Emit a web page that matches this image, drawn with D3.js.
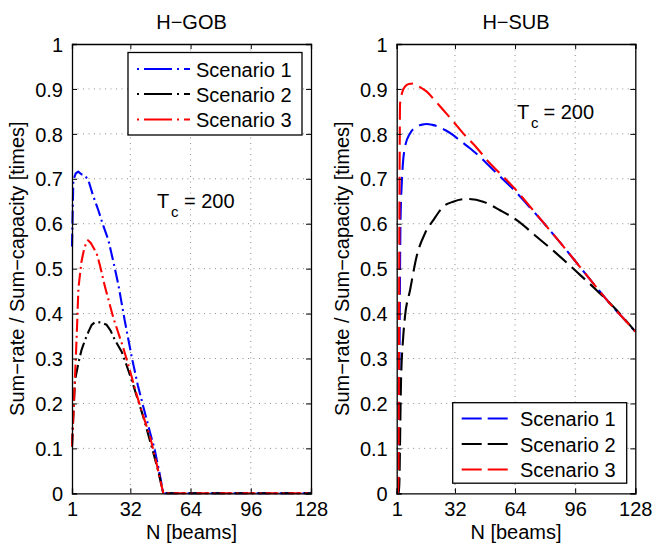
<!DOCTYPE html>
<html>
<head>
<meta charset="utf-8">
<script src="https://cdn.jsdelivr.net/npm/d3@7/dist/d3.min.js"></script>
<style>
  html, body { margin: 0; padding: 0; background: #fff; }
  svg { display: block; font-family: "Liberation Sans", Arial, Helvetica, sans-serif; }
</style>
</head>
<body>
<svg id="chart" width="654" height="544"></svg>
<script>
// ---------- data ----------
const xTicks = [1, 32, 64, 96, 128];
const yTicks = [0, 0.1, 0.2, 0.3, 0.4, 0.5, 0.6, 0.7, 0.8, 0.9, 1];
const seriesNames = ["Scenario 1", "Scenario 2", "Scenario 3"];
const seriesColors = ["#0000ff", "#000000", "#ff0000"];
const panelTitles = ["H\u2212GOB", "H\u2212SUB"];

// H-GOB panel
const gobN1 = [1, 1.7, 3, 4.3, 6, 7.9, 9.7, 12, 15, 17.5, 20.3, 23, 25.6, 29, 32.7, 36, 39.8, 42.5, 45, 47.5, 49.5, 128];
const gobV1 = [0.549, 0.697, 0.712, 0.716, 0.71, 0.707, 0.697, 0.665, 0.63, 0.597, 0.564, 0.515, 0.465, 0.385, 0.304, 0.24, 0.178, 0.135, 0.096, 0.045, 0, 0];
const gobN2 = [1, 2, 2.6, 4.4, 6, 7.9, 10, 11.5, 13, 15, 17, 19.4, 21.5, 23.8, 27.4, 30, 32.7, 35.5, 38.9, 43.3, 46.5, 49.5, 128];
const gobV2 = [0.104, 0.2, 0.252, 0.29, 0.318, 0.341, 0.362, 0.375, 0.38, 0.381, 0.379, 0.375, 0.362, 0.341, 0.315, 0.285, 0.252, 0.215, 0.17, 0.104, 0.055, 0, 0];
const gobN3 = [1, 2, 3, 3.5, 4.4, 6, 7.5, 8.8, 9.5, 11, 14.1, 16, 18.5, 23, 28.3, 32, 35.4, 39, 42.5, 46, 49.5, 128];
const gobV3 = [0.104, 0.2, 0.3, 0.35, 0.456, 0.515, 0.545, 0.56, 0.563, 0.557, 0.534, 0.505, 0.46, 0.39, 0.323, 0.27, 0.219, 0.17, 0.126, 0.065, 0, 0];

// H-SUB panel
const subN1 = [1, 1.9, 3, 3.7, 5.4, 8.1, 11.6, 14, 17, 20, 23.2, 27, 31.1, 35, 40, 45, 50.7, 56, 63, 72, 81, 90, 98.5, 107, 116, 122, 128];
const subV1 = [0, 0, 0.6, 0.69, 0.771, 0.801, 0.816, 0.82, 0.822, 0.82, 0.816, 0.808, 0.797, 0.784, 0.768, 0.75, 0.727, 0.705, 0.677, 0.636, 0.593, 0.548, 0.504, 0.46, 0.415, 0.388, 0.36];
const subN2 = [1, 2.2, 3.3, 4.5, 5.4, 8.1, 11.6, 16.1, 20.5, 25.8, 31.1, 38.3, 47, 56, 64.9, 75.5, 86, 96.8, 107.4, 118, 128];
const subV2 = [0, 0, 0.25, 0.35, 0.393, 0.452, 0.527, 0.579, 0.608, 0.638, 0.649, 0.655, 0.649, 0.63, 0.608, 0.571, 0.534, 0.493, 0.452, 0.408, 0.36];
const subN3 = [1, 1.8, 2.8, 4, 5.4, 7.5, 9.8, 13, 17, 21, 25.8, 31, 36.4, 43, 50.7, 56, 63, 72, 81, 90, 98.5, 107, 116, 122, 128];
const subV3 = [0, 0, 0.868, 0.893, 0.905, 0.911, 0.912, 0.905, 0.894, 0.876, 0.853, 0.828, 0.801, 0.772, 0.734, 0.712, 0.682, 0.638, 0.593, 0.548, 0.504, 0.46, 0.415, 0.388, 0.36];

// ---------- drawing ----------
const svg = d3.select("#chart");
const FONT = 20;
const yTop = 44, yBottom = 493.3;

const panels = [
  { left: 72, right: 311, title: panelTitles[0],
    series: [[gobN1, gobV1], [gobN2, gobV2], [gobN3, gobV3]],
    dash: "13,4,2,4", curve: d3.curveLinear,
    legend: { x: 128, y: 52.5, w: 174, h: 82.5, rows: [69, 94, 119.5], sx1: 137, sx2: 190, tx: 196, dash: "2,5,28,5" },
    tc: { tx: 157, ty: 208, cx: 171, cy: 217, ex: 184 } },
  { left: 396.7, right: 635.3, title: panelTitles[1],
    series: [[subN1, subV1], [subN2, subV2], [subN3, subV3]],
    dash: "18,7", curve: d3.curveMonotoneX,
    legend: { x: 452.7, y: 402.7, w: 174, h: 80.5, rows: [418.5, 444, 469.5], sx1: 461.7, sx2: 508.3, tx: 520, dash: "20,6" },
    tc: { tx: 517, ty: 118.5, cx: 531, cy: 127.5, ex: 543.5 } }
];

panels.forEach(p => {
  const x = d3.scaleLinear().domain([1, 128]).range([p.left, p.right]);
  const y = d3.scaleLinear().domain([0, 1]).range([yBottom, yTop]);
  const g = svg.append("g");

  g.append("rect").attr("x", p.left).attr("y", yTop)
    .attr("width", p.right - p.left).attr("height", yBottom - yTop).attr("fill", "#fff");

  // grid
  g.append("g").selectAll("line").data(xTicks.slice(1, -1)).join("line")
    .attr("x1", d => x(d)).attr("x2", d => x(d)).attr("y1", yTop).attr("y2", yBottom)
    .attr("stroke", "#8c8c8c").attr("stroke-width", 1).attr("stroke-dasharray", "1,4.5");
  g.append("g").selectAll("line").data(yTicks.slice(1, -1)).join("line")
    .attr("y1", d => y(d)).attr("y2", d => y(d)).attr("x1", p.left).attr("x2", p.right)
    .attr("stroke", "#8c8c8c").attr("stroke-width", 1).attr("stroke-dasharray", "1,4.5");

  // series
  const line = d3.line().x(d => x(d[0])).y(d => y(d[1])).curve(p.curve);
  p.series.forEach((s, i) => {
    const pts = s[0].map((n, k) => [n, s[1][k]]);
    g.append("path").datum(pts).attr("d", line)
      .attr("fill", "none").attr("stroke", seriesColors[i]).attr("stroke-width", 2.1)
      .attr("stroke-dasharray", p.dash).attr("stroke-linejoin", "round");
  });

  // axes (inward ticks, box)
  const axB = d3.axisBottom(x).tickValues(xTicks).tickSize(-5).tickFormat(d3.format("d")).tickPadding(9);
  const axT = d3.axisTop(x).tickValues(xTicks).tickSize(-5).tickFormat("");
  const axL = d3.axisLeft(y).tickValues(yTicks).tickSize(-5).tickFormat(d => d === 0 ? "0" : (d === 1 ? "1" : d3.format(".1f")(d))).tickPadding(9);
  const axR = d3.axisRight(y).tickValues(yTicks).tickSize(-5).tickFormat("");

  const gb = g.append("g").attr("transform", `translate(0,${yBottom})`).call(axB);
  const gt = g.append("g").attr("transform", `translate(0,${yTop})`).call(axT);
  const gl = g.append("g").attr("transform", `translate(${p.left},0)`).call(axL);
  const gr = g.append("g").attr("transform", `translate(${p.right},0)`).call(axR);
  [gb, gt, gl, gr].forEach(a => {
    a.attr("font-family", null).attr("font-size", null);
    a.selectAll("path.domain").attr("stroke", "#000").attr("stroke-width", 1.3);
    a.selectAll(".tick line").attr("stroke", "#000").attr("stroke-width", 1);
    a.selectAll("text").attr("font-size", FONT).attr("fill", "#000");
  });
  gb.selectAll(".tick text").attr("dy", null).attr("y", 516 - yBottom);
  gl.selectAll(".tick text").attr("dy", "0.36em");

  // title
  g.append("text").attr("x", (p.left + p.right) / 2).attr("y", 28.5)
    .attr("text-anchor", "middle").attr("font-size", 20).text(p.title);

  // x label
  g.append("text").attr("x", (p.left + p.right) / 2).attr("y", 539)
    .attr("text-anchor", "middle").attr("font-size", FONT).text("N [beams]");

  // y label
  g.append("text")
    .attr("transform", `translate(${p.left - 48},${(yTop + yBottom) / 2}) rotate(-90)`)
    .attr("text-anchor", "middle").attr("font-size", FONT)
    .text("Sum\u2212rate / Sum\u2212capacity [times]");

  // T_c annotation
  g.append("text").attr("x", p.tc.tx).attr("y", p.tc.ty).attr("font-size", FONT).text("T");
  g.append("text").attr("x", p.tc.cx).attr("y", p.tc.cy).attr("font-size", 15).text("c");
  g.append("text").attr("x", p.tc.ex).attr("y", p.tc.ty).attr("font-size", FONT).text("= 200");

  // legend
  const L = p.legend;
  const lg = g.append("g");
  lg.append("rect").attr("x", L.x).attr("y", L.y).attr("width", L.w).attr("height", L.h)
    .attr("fill", "#fff").attr("stroke", "#000").attr("stroke-width", 1.3);
  seriesNames.forEach((name, i) => {
    lg.append("line").attr("x1", L.sx1).attr("x2", L.sx2).attr("y1", L.rows[i]).attr("y2", L.rows[i])
      .attr("stroke", seriesColors[i]).attr("stroke-width", 2.1).attr("stroke-dasharray", L.dash);
    lg.append("text").attr("x", L.tx).attr("y", L.rows[i] + 7.5).attr("font-size", FONT).text(name);
  });
});
</script>
</body>
</html>
